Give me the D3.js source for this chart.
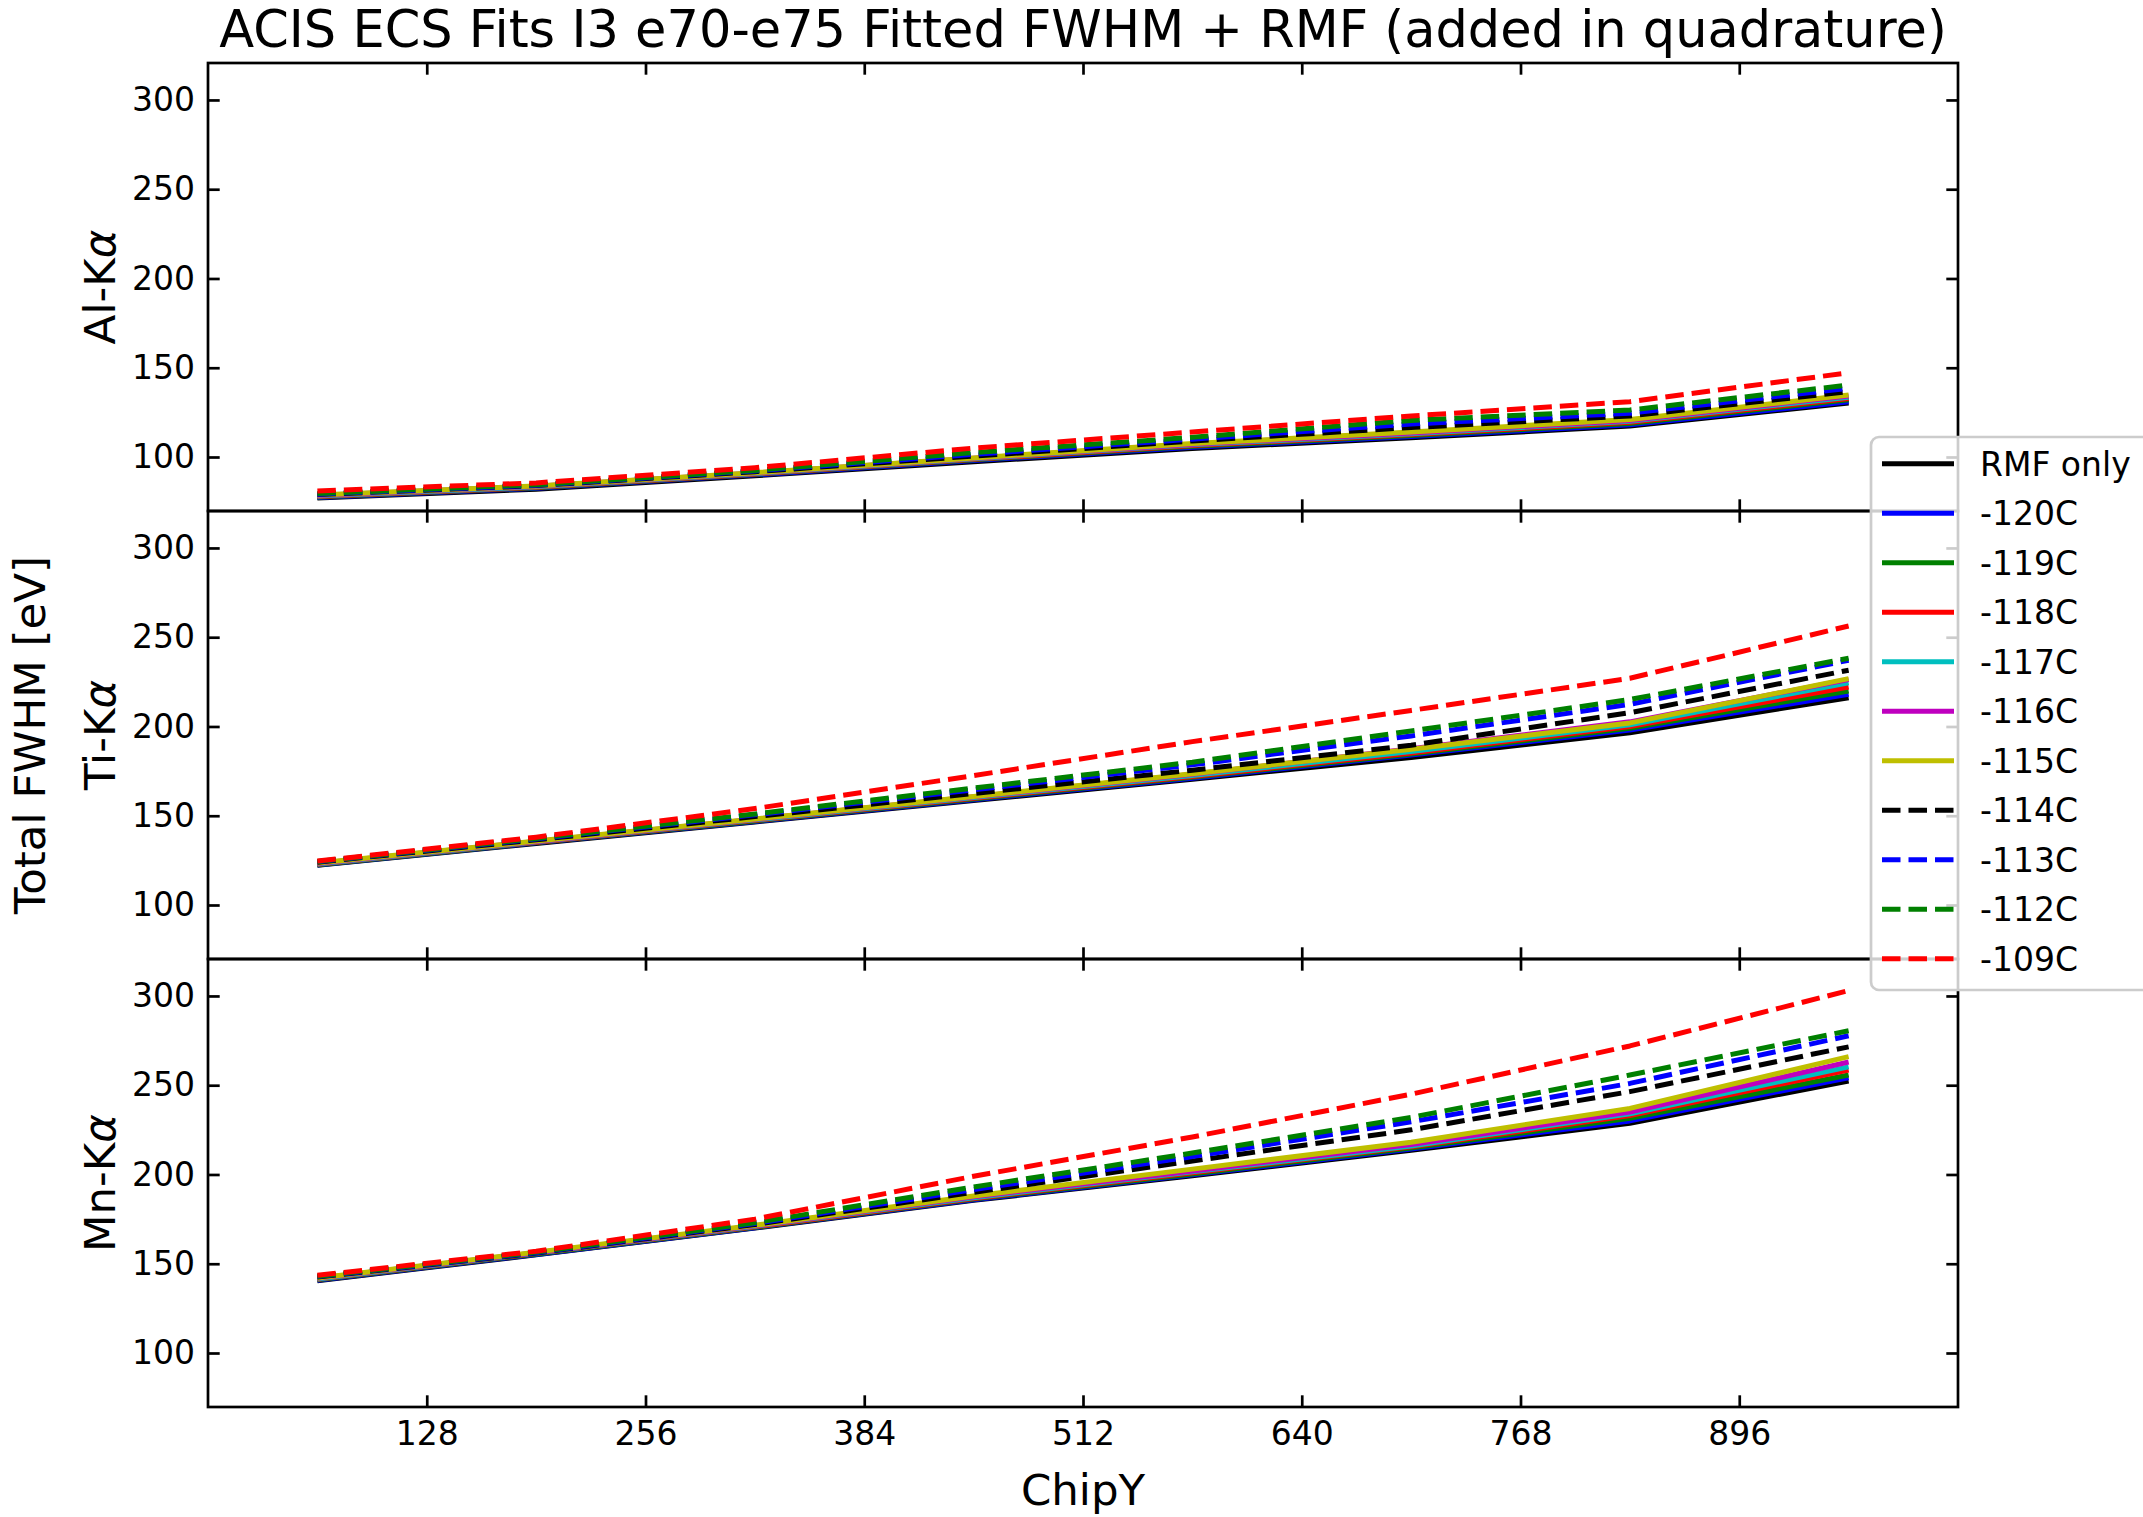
<!DOCTYPE html>
<html>
<head>
<meta charset="utf-8">
<script src="https://cdn.jsdelivr.net/npm/d3@7"></script>
<style>
body { margin: 0; background: #fff; }
text { font-family: "DejaVu Sans"; }
</style>
</head>
<body>
<script>
// ChipY bin centres and tick values
var chipY = [64, 192, 320, 448, 576, 704, 832, 960];
var xTicks = [128, 256, 384, 512, 640, 768, 896];
var yTicks = [100, 150, 200, 250, 300];
var seriesNames = ["RMF only", "-120C", "-119C", "-118C", "-117C", "-116C", "-115C", "-114C", "-113C", "-112C", "-109C"];
var panelLines = ["Al", "Ti", "Mn"];

// Total FWHM [eV], one row per series (same order as seriesNames)
var alFwhm = [
  [77.0, 82.0, 89.5, 97.3, 104.8, 110.8, 117.3, 130.3],
  [77.3, 82.5, 90.0, 98.0, 105.5, 111.5, 118.0, 131.0],
  [77.6, 82.8, 90.3, 98.4, 106.0, 112.0, 118.8, 132.0],
  [77.9, 83.0, 90.5, 98.7, 106.4, 112.6, 119.4, 132.8],
  [78.2, 83.3, 90.7, 99.0, 106.8, 113.0, 120.0, 133.5],
  [78.5, 83.6, 91.0, 99.3, 107.2, 113.5, 120.5, 134.2],
  [78.7, 83.8, 91.2, 99.5, 107.5, 114.0, 121.0, 134.7],
  [79.0, 84.0, 91.8, 100.5, 109.0, 116.5, 123.0, 136.6],
  [79.2, 84.2, 92.2, 101.5, 110.0, 118.5, 124.5, 138.5],
  [79.5, 84.5, 92.5, 102.5, 111.0, 120.5, 126.3, 140.3],
  [81.0, 85.5, 94.0, 105.0, 114.0, 123.0, 131.0, 147.2]
];
var tiFwhm = [
  [122.2, 134.5, 146.5, 158.5, 170.5, 182.6, 196.5, 216.1],
  [122.4, 134.8, 146.8, 159.0, 171.0, 184.0, 198.0, 218.0],
  [122.6, 135.0, 147.1, 159.4, 171.5, 184.6, 199.0, 219.9],
  [122.8, 135.2, 147.4, 159.8, 172.0, 185.2, 200.0, 222.1],
  [123.0, 135.4, 147.7, 160.2, 172.6, 186.0, 201.0, 224.5],
  [123.2, 135.6, 148.0, 160.6, 173.2, 187.6, 202.6, 226.3],
  [123.5, 135.8, 148.2, 160.8, 173.5, 187.2, 202.0, 226.8],
  [124.0, 136.5, 149.5, 162.5, 175.5, 189.5, 207.7, 231.5],
  [124.2, 137.0, 150.5, 164.5, 178.5, 194.7, 212.4, 237.1],
  [124.4, 137.3, 151.0, 165.5, 180.0, 197.5, 215.1, 238.2],
  [124.6, 138.0, 154.0, 172.5, 191.5, 209.0, 227.0, 256.3]
];
var mnFwhm = [
  [140.5, 155.0, 170.0, 185.5, 199.3, 213.5, 228.7, 252.3],
  [140.8, 155.2, 170.2, 185.8, 199.8, 214.2, 230.0, 254.2],
  [141.0, 155.5, 170.4, 186.2, 200.3, 214.8, 231.5, 255.7],
  [141.3, 155.8, 170.7, 186.6, 201.0, 215.5, 233.0, 258.5],
  [141.5, 156.0, 171.0, 187.0, 201.5, 216.0, 234.0, 260.3],
  [141.8, 156.2, 171.2, 187.5, 202.0, 216.8, 235.0, 263.0],
  [142.0, 156.5, 171.5, 188.0, 203.0, 218.0, 237.0, 266.0],
  [142.5, 156.0, 172.0, 190.0, 207.5, 225.0, 246.4, 271.5],
  [142.8, 156.2, 172.5, 191.5, 210.0, 229.5, 251.0, 277.7],
  [143.0, 156.5, 173.0, 193.0, 212.0, 232.0, 255.7, 280.5],
  [143.5, 157.0, 175.0, 199.0, 221.0, 245.0, 272.0, 303.0]
];

var panelData = [alFwhm, tiFwhm, mnFwhm];
var colors = ["#000000", "#0000ff", "#008000", "#ff0000", "#00bfbf", "#bf00bf", "#bfbf00",
              "#000000", "#0000ff", "#008000", "#ff0000"];

var w = 2143;
var h = 1517;
var left = 208;
var right = 1958;
var top0 = 63;
var panelH = 448;
var tick = 11.7;

var svg = d3.select("body")
            .append("svg")
            .attr("width", w)
            .attr("height", h)

var xScale = d3.scaleLinear()
               .domain([0, 1024])
               .range([left, right]);

/* title */
svg.append("text")
   .attr("x", (left + right) / 2)
   .attr("y", 47)
   .attr("text-anchor", "middle")
   .attr("font-size", 51)
   .text("ACIS ECS Fits I3 e70-e75 Fitted FWHM + RMF (added in quadrature)")

var line = d3.line();

panelData.forEach(function(rows, p) {
    var y0 = top0 + p * panelH;
    var yScale = d3.scaleLinear()
                   .domain([69.75, 320.7])
                   .range([y0 + panelH, y0]);

    /* data lines */
    var g = svg.append("g");
    rows.forEach(function(vals, i) {
        var pts = vals.map(function(v, j) { return [xScale(chipY[j]), yScale(v)]; });
        g.append("path")
         .attr("d", line(pts))
         .attr("fill", "none")
         .attr("stroke", colors[i])
         .attr("stroke-width", 5)
         .attr("stroke-linejoin", "round")
         .attr("stroke-dasharray", i >= 7 ? "18.5,8" : null)
    });

    /* axes, ticks pointing inward */
    var bottom = svg.append("g")
       .attr("transform", "translate(0," + (y0 + panelH) + ")")
       .call(d3.axisBottom(xScale).tickValues(xTicks).tickSizeInner(-tick).tickSizeOuter(0).tickPadding(14.6));
    if (p < 2) bottom.selectAll("text").remove();

    svg.append("g")
       .attr("transform", "translate(0," + y0 + ")")
       .call(d3.axisTop(xScale).tickValues(xTicks).tickSizeInner(-tick).tickSizeOuter(0))
       .selectAll("text").remove();

    svg.append("g")
       .attr("transform", "translate(" + left + ",0)")
       .call(d3.axisLeft(yScale).tickValues(yTicks).tickSizeInner(-tick).tickSizeOuter(0).tickPadding(13));

    svg.append("g")
       .attr("transform", "translate(" + right + ",0)")
       .call(d3.axisRight(yScale).tickValues(yTicks).tickSizeInner(-tick).tickSizeOuter(0))
       .selectAll("text").remove();

    svg.append("rect")
       .attr("x", left)
       .attr("y", y0)
       .attr("width", right - left)
       .attr("height", panelH)
       .attr("fill", "none")
       .attr("stroke", "#000")
       .attr("stroke-width", 2.7)

    /* panel label */
    var lab = svg.append("text")
       .attr("transform", "translate(115," + (y0 + panelH / 2) + ") rotate(-90)")
       .attr("text-anchor", "middle")
       .attr("font-size", 43.5)
    lab.append("tspan").text(panelLines[p] + "-K");
    lab.append("tspan").attr("font-style", "italic").text("\u03b1");
});

svg.selectAll(".domain").remove();
svg.selectAll(".tick line").attr("stroke-width", 2.7);
svg.selectAll(".tick text")
   .attr("font-family", "DejaVu Sans")
   .attr("font-size", 33)
   .attr("fill", "#000");

/* shared labels */
svg.append("text")
   .attr("transform", "translate(45," + (top0 + 1.5 * panelH) + ") rotate(-90)")
   .attr("text-anchor", "middle")
   .attr("font-size", 43.5)
   .text("Total FWHM [eV]")

svg.append("text")
   .attr("x", (left + right) / 2)
   .attr("y", 1505)
   .attr("text-anchor", "middle")
   .attr("font-size", 43.5)
   .text("ChipY")

/* legend */
var legend = svg.append("g");
legend.append("rect")
      .attr("x", 1871)
      .attr("y", 437)
      .attr("width", 320)
      .attr("height", 553)
      .attr("rx", 8)
      .attr("fill", "rgba(255,255,255,0.8)")
      .attr("stroke", "#cccccc")
      .attr("stroke-width", 2.7)

seriesNames.forEach(function(name, i) {
    var yy = 463.8 + i * 49.5;
    legend.append("line")
          .attr("x1", 1882)
          .attr("x2", 1954)
          .attr("y1", yy)
          .attr("y2", yy)
          .attr("stroke", colors[i])
          .attr("stroke-width", 5)
          .attr("stroke-dasharray", i >= 7 ? "18.5,8" : null)
    legend.append("text")
          .attr("x", 1980)
          .attr("y", yy + 12)
          .attr("font-size", 33)
          .text(name)
});
</script>
</body>
</html>
